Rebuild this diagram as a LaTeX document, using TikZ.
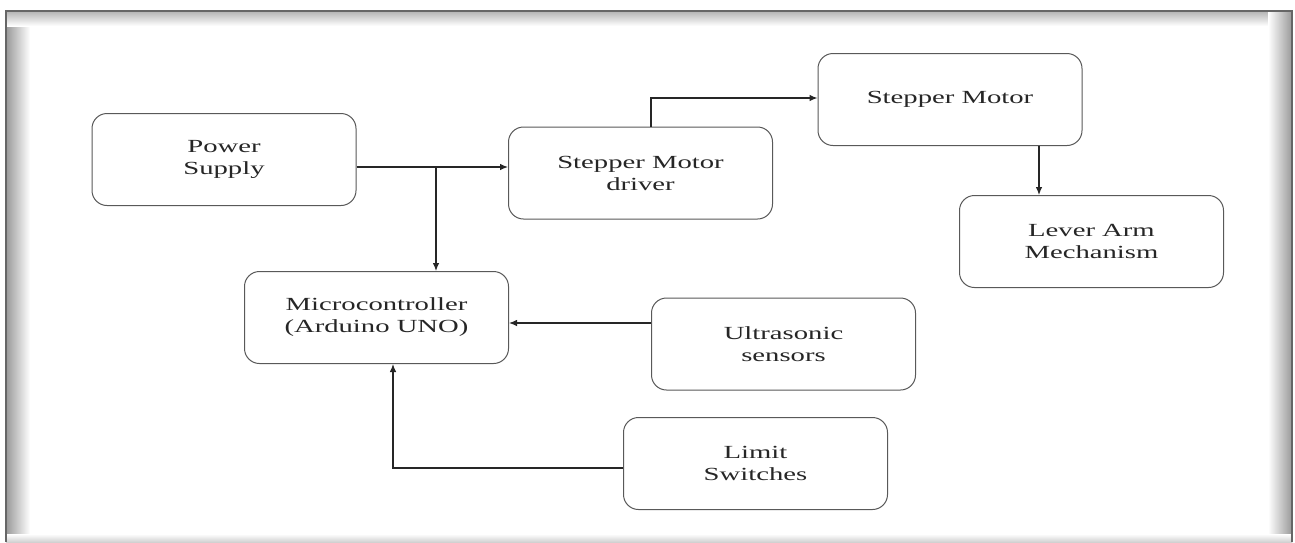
\documentclass[tikz,border=0pt]{standalone}
\usepackage{fontspec}
\setmainfont{Liberation Serif}[FakeStretch=1.55]
\usetikzlibrary{arrows.meta,calc}
\begin{document}
\begin{tikzpicture}[x=1pt,y=-1pt,
  blk/.style={draw=black!65,line width=1pt,rounded corners=15pt,minimum width=264pt,minimum height=92pt,inner sep=0pt,align=center,text=black!85,font=\fontsize{18.5}{22}\selectfont},
  conn/.style={draw=black!85,line width=1.1pt},
  arr/.style={conn,-{Latex[length=8pt,width=6.5pt]}}]
\useasboundingbox (0,0) rectangle (1295,542);
\fill[white] (0,0) rectangle (1295,542);
% frame with shadow
\shade[left color=black!40,right color=white] (6,11) rectangle (30,542);
\shade[top color=black!30,bottom color=white] (6,11) rectangle (1292,26);
\shade[left color=white,right color=black!40] (1268,11) rectangle (1292,542);
\shade[top color=white,bottom color=black!18] (6,534) rectangle (1292,542);
\draw[black!60,line width=1.2pt] (6,542) -- (6,11) -- (1292,11) -- (1292,542);
% nodes
\node[blk] (ps) at (224,159.5) {Power\\Supply};
\node[blk] (drv) at (640.5,173) {Stepper Motor\\driver};
\node[blk] (sm) at (950,99.5) {Stepper Motor};
\node[blk] (lev) at (1091.5,241.5) {Lever Arm\\Mechanism};
\node[blk] (mcu) at (376.5,317.5) {Microcontroller\\(Arduino UNO)};
\node[blk] (us) at (783.5,344) {Ultrasonic\\sensors};
\node[blk] (ls) at (755.5,463.5) {Limit\\Switches};
% connectors
\coordinate (psout) at ($(ps.east)+(0,7.5)$);
\coordinate (br) at (436,167);
\draw[arr] (psout) -- (drv.west |- psout);
\draw[arr] (br) -- (br |- mcu.north);
\coordinate (dtop) at (651,0);
\coordinate (smin) at (0,98);
\draw[arr] (dtop |- drv.north) -- (dtop |- smin) -- (sm.west |- smin);
\coordinate (smx) at (1039,0);
\draw[arr] (smx |- sm.south) -- (smx |- lev.north);
\coordinate (usy) at (0,323);
\draw[arr] (us.west |- usy) -- (mcu.east |- usy);
\coordinate (lsy) at (0,468);
\coordinate (lsx) at (393,0);
\draw[arr] (ls.west |- lsy) -- (lsx |- lsy) -- (lsx |- mcu.south);
\end{tikzpicture}
\end{document}
